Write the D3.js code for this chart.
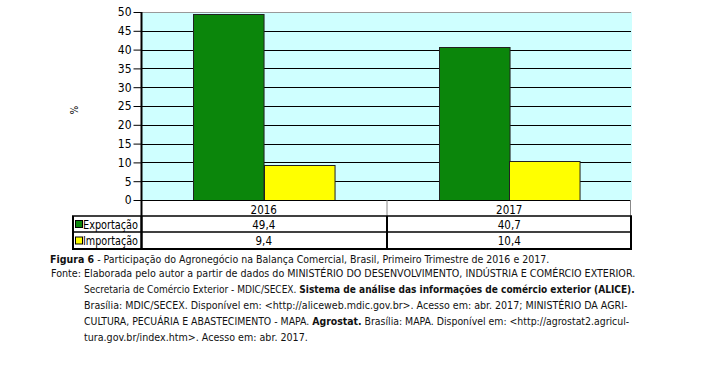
<!DOCTYPE html>
<html>
<head>
<meta charset="utf-8">
<script src="https://cdn.jsdelivr.net/npm/d3@7"></script>
<style>
    body { margin: 0; background: #fff; }
    svg { display: block; font-family: "DejaVu Sans Condensed", "DejaVu Sans", sans-serif; }
</style>
</head>
<body>
<div id="chart"></div>
<script>
    const years = ['2016', '2017'];
    const seriesNames = ['Exportação', 'Importação'];
    const exportacao = [49.4, 40.7];
    const importacao = [9.4, 10.4];
    const yTicks = [0, 5, 10, 15, 20, 25, 30, 35, 40, 45, 50];

    const COLORS = {
        exportacao: '#0b860b',
        importacao: '#ffff00',
        plotBg: '#cfffff',
        text: '#000'
    };

    const W = 706, H = 370;
    const plot = { left: 141, right: 632, top: 12, bottom: 200 };
    const rowH = [16, 16, 17]; // header row, Exportação row, Importação row
    const legendLeft = 72;

    const svg = d3.select('#chart').append('svg')
        .attr('width', W)
        .attr('height', H);

    const x = d3.scaleBand()
        .domain(years)
        .range([plot.left, plot.right]);

    const xInner = d3.scaleBand()
        .domain(seriesNames)
        .range([0, x.bandwidth()])
        .paddingOuter(0.74);

    const y = d3.scaleLinear()
        .domain([0, 50])
        .range([plot.bottom, plot.top]);

    const fmt = d3.formatLocale({ decimal: ',', thousands: '.', grouping: [3], currency: ['', ''] }).format('.1f');

    // plot background
    svg.append('rect')
        .attr('x', plot.left)
        .attr('y', plot.top)
        .attr('width', plot.right - plot.left)
        .attr('height', plot.bottom - plot.top)
        .attr('fill', COLORS.plotBg);

    // gridlines
    svg.append('g')
        .selectAll('line')
        .data(yTicks.filter(d => d > 0))
        .enter()
        .append('line')
        .attr('x1', plot.left)
        .attr('x2', plot.right - 1)
        .attr('y1', d => Math.round(y(d)) + 0.5)
        .attr('y2', d => Math.round(y(d)) + 0.5)
        .attr('stroke', d => d === 50 ? '#999' : '#000')
        .attr('stroke-width', 1);

    // bars
    const bars = [
        { key: 'Exportação', values: exportacao, color: COLORS.exportacao },
        { key: 'Importação', values: importacao, color: COLORS.importacao }
    ];

    bars.forEach(s => {
        svg.append('g')
            .selectAll('rect')
            .data(years.map((yr, i) => ({ year: yr, value: s.values[i] })))
            .enter()
            .append('rect')
            .attr('x', d => Math.round(x(d.year) + xInner(s.key)) + 0.5)
            .attr('y', d => Math.round(y(d.value)) + 0.5)
            .attr('width', xInner.bandwidth())
            .attr('height', d => y(0) - Math.round(y(d.value)))
            .attr('fill', s.color)
            .attr('stroke', '#222')
            .attr('stroke-width', 1);
    });

    // y axis
    const yAxis = d3.axisLeft(y)
        .tickValues(yTicks)
        .tickSize(8)
        .tickPadding(2)
        .tickFormat(d3.format('d'));

    const yg = svg.append('g')
        .attr('transform', `translate(${plot.left + 0.5},0)`)
        .call(yAxis);
    yg.select('.domain').remove();
    yg.selectAll('.tick line').attr('stroke', '#000');
    yg.selectAll('.tick text')
        .attr('font-size', 12)
        .attr('fill', COLORS.text)
        .style('font-family', '"DejaVu Sans Condensed", sans-serif');

    // "%" axis title
    svg.append('text')
        .attr('transform', 'translate(70,110) rotate(90)')
        .attr('text-anchor', 'middle')
        .attr('font-size', 10)
        .text('%');

    // table under the plot
    const tableTop = plot.bottom;
    const row1 = tableTop + rowH[0];
    const row2 = row1 + rowH[1];
    const tableBottom = row2 + rowH[2];

    const table = svg.append('g');

    // header row (years) - grey thin borders
    table.append('line')
        .attr('x1', plot.left).attr('x2', plot.right - 1)
        .attr('y1', tableTop + 0.5).attr('y2', tableTop + 0.5)
        .attr('stroke', '#000');
    table.append('line')
        .attr('x1', x(years[1]) + 0.5).attr('x2', x(years[1]) + 0.5)
        .attr('y1', tableTop).attr('y2', row1)
        .attr('stroke', '#888');
    table.append('line')
        .attr('x1', plot.right - 1.5).attr('x2', plot.right - 1.5)
        .attr('y1', tableTop).attr('y2', row1)
        .attr('stroke', '#888');

    // data rows - black borders
    [row1, row2, tableBottom].forEach(ry => {
        table.append('line')
            .attr('x1', legendLeft).attr('x2', plot.right)
            .attr('y1', ry).attr('y2', ry)
            .attr('stroke', '#000')
            .attr('stroke-width', ry === tableBottom ? 2 : 1.5);
    });
    [legendLeft + 1, plot.left + 0.5, x(years[1]) + 0.5, plot.right - 1].forEach(vx => {
        table.append('line')
            .attr('x1', vx).attr('x2', vx)
            .attr('y1', row1).attr('y2', tableBottom + 1)
            .attr('stroke', '#000')
            .attr('stroke-width', 2);
    });
    // axis line through plot and table
    table.append('line')
        .attr('x1', plot.left + 0.5).attr('x2', plot.left + 0.5)
        .attr('y1', plot.top).attr('y2', tableBottom + 1)
        .attr('stroke', '#000')
        .attr('stroke-width', 2);

    // year labels
    table.selectAll('.year')
        .data(years)
        .enter()
        .append('text')
        .attr('class', 'year')
        .attr('x', d => x(d) + x.bandwidth() / 2)
        .attr('y', tableTop + 14)
        .attr('text-anchor', 'middle')
        .attr('font-size', 11.5)
        .text(d => d);

    // legend + value rows
    const rowTops = [row1, row2];
    bars.forEach((s, i) => {
        const cy = rowTops[i] + rowH[i + 1] / 2;
        table.append('rect')
            .attr('x', legendLeft + 3.5)
            .attr('y', cy - 3.5)
            .attr('width', 7)
            .attr('height', 7)
            .attr('fill', s.color)
            .attr('stroke', '#000');
        table.append('text')
            .attr('x', legendLeft + 11)
            .attr('y', cy + 4.5)
            .attr('font-size', 12)
            .attr('textLength', 55)
            .attr('lengthAdjust', 'spacingAndGlyphs')
            .text(s.key);
        years.forEach((yr, j) => {
            table.append('text')
                .attr('x', x(yr) + x.bandwidth() / 2)
                .attr('y', cy + 4.5)
                .attr('text-anchor', 'middle')
                .attr('font-size', 11.5)
                .text(fmt(s.values[j]));
        });
    });

    // caption / source (font size fitted per line to the widths in the figure)
    const captionLines = [
        { x: 50, y: 263, w: 500, parts: [['Figura 6', true], [' - Participação do Agronegócio na Balança Comercial, Brasil, Primeiro Trimestre de 2016 e 2017.', false]] },
        { x: 51, y: 277, w: 585, parts: [['Fonte: Elaborada pelo autor a partir de dados do MINISTÉRIO DO DESENVOLVIMENTO, INDÚSTRIA E COMÉRCIO EXTERIOR.', false]] },
        { x: 84, y: 293, w: 551, parts: [['Secretaria de Comércio Exterior - MDIC/SECEX. ', false], ['Sistema de análise das informações de comércio exterior (ALICE).', true]] },
        { x: 84, y: 309, w: 544, parts: [['Brasília: MDIC/SECEX. Disponível em: <http://aliceweb.mdic.gov.br>. Acesso em: abr. 2017; MINISTÉRIO DA AGRI-', false]] },
        { x: 84, y: 325, w: 546, parts: [['CULTURA, PECUÁRIA E ABASTECIMENTO - MAPA. ', false], ['Agrostat.', true], [' Brasília: MAPA. Disponível em: <http://agrostat2.agricul-', false]] },
        { x: 84, y: 341, w: 224, parts: [['tura.gov.br/index.htm>. Acesso em: abr. 2017.', false]] }
    ];

    const caption = svg.append('g')
        .attr('fill', '#111');

    captionLines.forEach(line => {
        const t = caption.append('text')
            .attr('x', line.x)
            .attr('y', line.y)
            .attr('font-size', 11)
            .style('white-space', 'pre');
        line.parts.forEach(p => {
            t.append('tspan')
                .attr('font-weight', p[1] ? 'bold' : 'normal')
                .text(p[0]);
        });
        const natural = t.node().getComputedTextLength();
        t.attr('font-size', (11 * line.w / natural).toFixed(2));
    });
</script>
</body>
</html>
